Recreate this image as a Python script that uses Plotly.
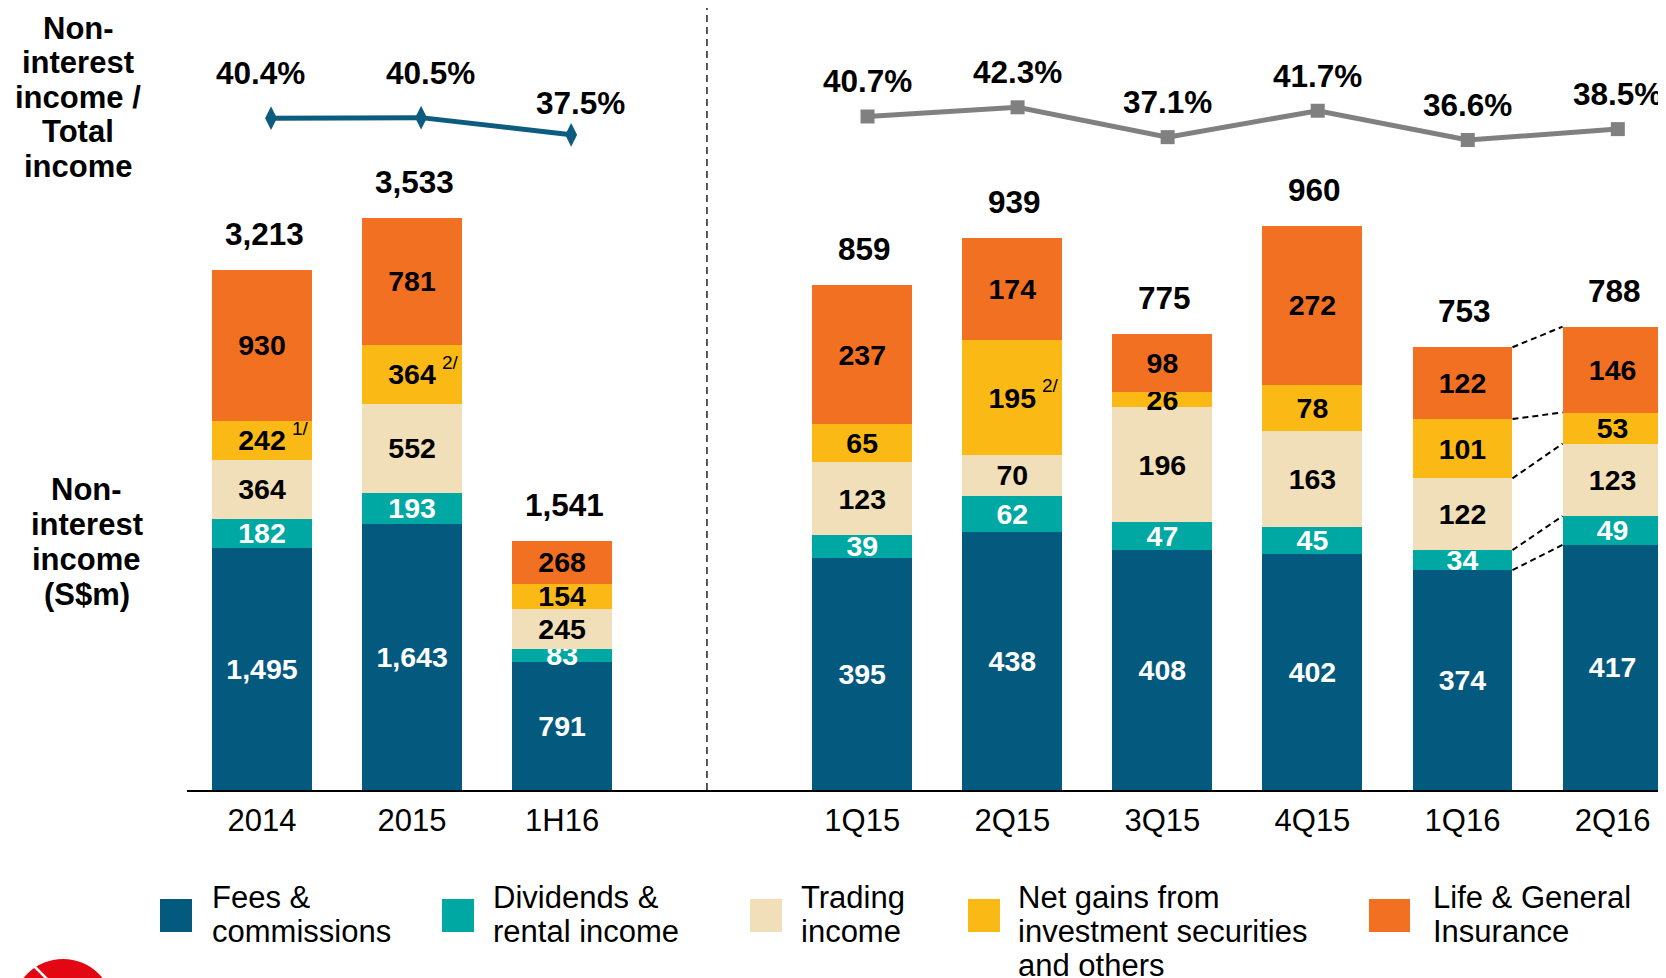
import plotly.graph_objects as go

FONT = "Liberation Sans, Arial, sans-serif"

# ---------------- data ----------------
annual_cats = ["2014", "2015", "1H16"]
quarter_cats = ["1Q15", "2Q15", "3Q15", "4Q15", "1Q16", "2Q16"]

series_names = ["Fees & commissions", "Dividends & rental income", "Trading income",
                "Net gains from investment securities and others", "Life & General Insurance"]
legend_lines = [["Fees &", "commissions"],
                ["Dividends &", "rental income"],
                ["Trading", "income"],
                ["Net gains from", "investment securities", "and others"],
                ["Life & General", "Insurance"]]

annual_fees = [1495, 1643, 791]
annual_div = [182, 193, 83]
annual_trading = [364, 552, 245]
annual_netgains = [242, 364, 154]
annual_life = [930, 781, 268]
annual_total = [3213, 3533, 1541]
annual_ratio = [40.4, 40.5, 37.5]
annual_notes = ["1/", "2/", ""]

quarter_fees = [395, 438, 408, 402, 374, 417]
quarter_div = [39, 62, 47, 45, 34, 49]
quarter_trading = [123, 70, 196, 163, 122, 123]
quarter_netgains = [65, 195, 26, 78, 101, 53]
quarter_life = [237, 174, 98, 272, 122, 146]
quarter_total = [859, 939, 775, 960, 753, 788]
quarter_ratio = [40.7, 42.3, 37.1, 41.7, 36.6, 38.5]
quarter_notes = ["", "2/", "", "", "", ""]

title_ratio = ["Non-", "interest", "income /", "Total", "income"]
title_income = ["Non-", "interest", "income", "(S$m)"]

# ---------------- styles ----------------
series_colors = ["#045A7E", "#00A8A3", "#F0DFB8", "#FBB916", "#F27022"]
label_colors = ["white", "white", "black", "black", "black"]
annual_line_color = "#0D5C80"
quarter_line_color = "#808080"

# page geometry (browser body has an 8px margin, so the figure is shrunk by it)
OFF = 8
PAGE_W, PAGE_H = 1666, 978
W, H = PAGE_W - OFF, PAGE_H - OFF
PLOT_LEFT, PLOT_TOP, BASE = 187, OFF, 790       # page pixel positions
L = PLOT_LEFT - OFF
PW = W - L
PH = BASE - PLOT_TOP
B = H - PH
BARGAP = 0.334


def px(x):
    return (x - PLOT_LEFT) / PW


def py(y):
    return (BASE - y) / PH


annual_series = [annual_fees, annual_div, annual_trading, annual_netgains, annual_life]
quarter_series = [quarter_fees, quarter_div, quarter_trading, quarter_netgains, quarter_life]

ax_pos = list(range(len(annual_cats)))
qx_pos = [len(annual_cats) + 1 + i for i in range(len(quarter_cats))]

fig = go.Figure()

for k, name in enumerate(series_names):
    for xs, vals, yax in ((ax_pos, annual_series[k], "y"), (qx_pos, quarter_series[k], "y2")):
        fig.add_trace(go.Bar(
            x=xs, y=vals, name=name, yaxis=yax,
            marker=dict(color=series_colors[k], line=dict(width=0)),
            text=[f"{v:,}" for v in vals],
            textposition="inside", insidetextanchor="middle", textangle=0,
            constraintext="none", cliponaxis=False,
            textfont=dict(family=FONT, size=28.5, color=label_colors[k], weight="bold"),
            showlegend=False, hoverinfo="skip",
        ))

# ratio lines
A_OFF, Q_OFF = 0.06, 0.035
fig.add_trace(go.Scatter(
    x=[x + A_OFF for x in ax_pos], y=annual_ratio, yaxis="y3", mode="lines+markers",
    line=dict(color=annual_line_color, width=5),
    marker=dict(symbol="diamond-tall", size=17, color=annual_line_color),
    showlegend=False, hoverinfo="skip", cliponaxis=False))
fig.add_trace(go.Scatter(
    x=[x + Q_OFF for x in qx_pos], y=quarter_ratio, yaxis="y3", mode="lines+markers",
    line=dict(color=quarter_line_color, width=5),
    marker=dict(symbol="square", size=14, color=quarter_line_color),
    showlegend=False, hoverinfo="skip", cliponaxis=False))

# connectors between the last two quarters
w = 1 - BARGAP
i1, i2 = len(quarter_cats) - 2, len(quarter_cats) - 1
c1 = c2 = 0
for k in range(len(quarter_series)):
    c1 += quarter_series[k][i1]
    c2 += quarter_series[k][i2]
    fig.add_trace(go.Scatter(
        x=[qx_pos[i1] + w / 2, qx_pos[i2] - w / 2], y=[c1, c2], yaxis="y2",
        mode="lines", line=dict(color="black", width=2, dash="6px,4px"),
        showlegend=False, hoverinfo="skip", cliponaxis=False))

ann = []
big = dict(family=FONT, size=31.5, color="black", weight="bold")
title_font = dict(family=FONT, size=31, color="black", weight="bold")

# totals
for xs, tots, yref in ((ax_pos, annual_total, "y"), (qx_pos, quarter_total, "y2")):
    for x, t in zip(xs, tots):
        ann.append(dict(x=x, y=t, xref="x", yref=yref, text=f"{t:,}", showarrow=False,
                        yanchor="middle", yshift=36, xshift=2, font=big))

# ratio labels
a_dx = [-11, 9, 9]
a_dy = [45, 45, 32]
for i, (x, r) in enumerate(zip(ax_pos, annual_ratio)):
    ann.append(dict(x=x + A_OFF, y=r, xref="x", yref="y3", text=f"{r:.1f}%", showarrow=False,
                    yanchor="middle", xshift=a_dx[i], yshift=a_dy[i], font=big))
for x, r in zip(qx_pos, quarter_ratio):
    ann.append(dict(x=x + Q_OFF, y=r, xref="x", yref="y3", text=f"{r:.1f}%", showarrow=False,
                    yanchor="middle", yshift=35, font=big))

# footnote markers on net-gains segments
for xs, series, notes, yref in ((ax_pos, annual_series, annual_notes, "y"),
                                (qx_pos, quarter_series, quarter_notes, "y2")):
    for i, note in enumerate(notes):
        if note:
            base = sum(series[k][i] for k in range(3))
            mid = base + series[3][i] / 2
            ann.append(dict(x=xs[i], y=mid, xref="x", yref=yref, text=note, showarrow=False,
                            xshift=38, yshift=12, yanchor="middle",
                            font=dict(family=FONT, size=19, color="black")))

# left titles
for j, t in enumerate(title_ratio):
    ann.append(dict(x=px(78.5), y=py(28.3 + 34.5 * j), xref="paper", yref="paper", text=t,
                    showarrow=False, xanchor="center", yanchor="middle", font=title_font))
for j, t in enumerate(title_income):
    ann.append(dict(x=px(86.7), y=py(489.5 + 35 * j), xref="paper", yref="paper", text=t,
                    showarrow=False, xanchor="center", yanchor="middle", font=title_font))

# custom legend
shapes = []
sq_x0 = [160, 442, 750, 968, 1369]
sq_w = [32, 32, 32, 32, 41]
txt_x = [210, 491, 799, 1016, 1431]
for k in range(len(series_names)):
    shapes.append(dict(type="rect", xref="paper", yref="paper",
                       x0=px(sq_x0[k]), x1=px(sq_x0[k] + sq_w[k]), y0=py(932), y1=py(899),
                       fillcolor=series_colors[k], line=dict(width=0)))
    for j, line in enumerate(legend_lines[k]):
        ann.append(dict(x=px(txt_x[k]), y=py(897.2 + 34 * j), xref="paper", yref="paper",
                        text=line, showarrow=False, xanchor="left", yanchor="middle",
                        font=dict(family=FONT, size=31, color="black")))

# separator between annual and quarterly sections
sep_x = (ax_pos[-1] + qx_pos[0]) / 2 - 0.035
shapes.append(dict(type="line", xref="x", yref="paper", x0=sep_x, x1=sep_x, y0=0, y1=py(0),
                   line=dict(color="#222222", width=1.5, dash="7px,5px")))

# logo fragment
shapes.append(dict(type="circle", xref="paper", yref="paper",
                   x0=px(12.5), x1=px(113.5), y0=py(1060), y1=py(959),
                   fillcolor="#E30613", line=dict(width=0)))
shapes.append(dict(type="line", xref="paper", yref="paper",
                   x0=px(33), x1=px(48), y0=py(965), y1=py(980),
                   line=dict(color="white", width=2.5)))

fig.update_layout(
    width=W, height=H,
    margin=dict(l=L, r=0, t=0, b=B, pad=0),
    paper_bgcolor="white", plot_bgcolor="white",
    barmode="stack", bargap=BARGAP,
    uniformtext=dict(minsize=28.5, mode="show"),
    showlegend=False,
    font=dict(family=FONT, color="black"),
    xaxis=dict(range=[-0.5, -0.5 + PW / 150.06], tickmode="array", tickvals=ax_pos + qx_pos,
               ticktext=annual_cats + quarter_cats, showgrid=False, zeroline=False,
               showline=True, linecolor="black", linewidth=2, ticks="",
               ticklabelstandoff=2,
               tickfont=dict(family=FONT, size=31, color="black")),
    yaxis=dict(range=[0, PH / 0.16184], visible=False, showgrid=False),
    yaxis2=dict(range=[0, PH / 0.588], overlaying="y", visible=False, showgrid=False),
    yaxis3=dict(range=[42.3 - (BASE - 107.3) / 5.74, 42.3 + (107.3 - PLOT_TOP) / 5.74],
                overlaying="y", visible=False, showgrid=False),
    annotations=ann,
    shapes=shapes,
)

fig.write_html("out.html")
